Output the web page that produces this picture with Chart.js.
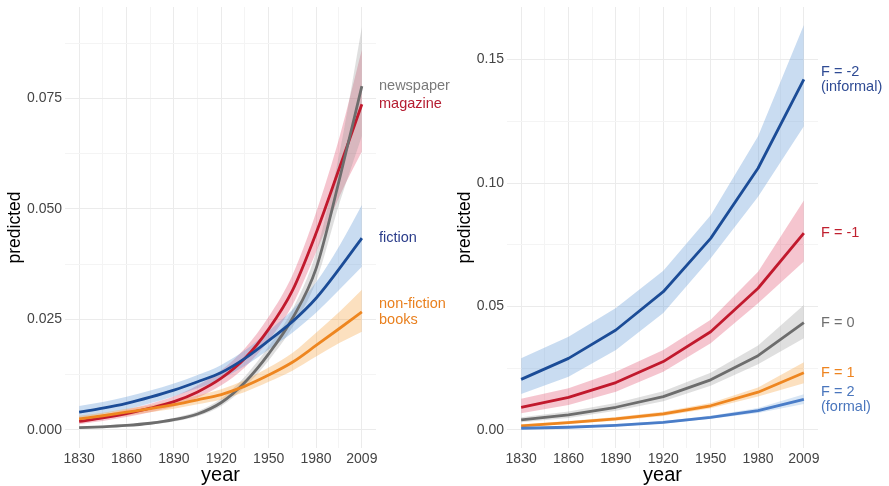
<!DOCTYPE html>
<html>
<head>
<meta charset="utf-8">
<script src="https://cdn.jsdelivr.net/npm/chart.js@4.4.1/dist/chart.umd.min.js"></script>
<style>
  html, body { margin: 0; padding: 0; background: #fff; }
  #wrap { position: relative; width: 889px; height: 486px; overflow: hidden; }
  canvas { position: absolute; top: 0; }
  #genreChart { left: 0; }
  #formalityChart { left: 445px; }
</style>
</head>
<body>
<div id="wrap">
  <canvas id="genreChart" width="470" height="486"></canvas>
  <canvas id="formalityChart" width="444" height="486"></canvas>
</div>
<script>
// ---- Panel 1: predicted share by genre ----
const genreYears = [1830, 1845, 1860, 1875, 1890, 1905, 1920, 1935, 1950, 1965, 1980, 1995, 2009];

const newspaperFit   = [0.0005, 0.0007, 0.0010, 0.0015, 0.0023, 0.0036, 0.0062, 0.0108, 0.0172, 0.0252, 0.0365, 0.0570, 0.0778];
const newspaperLow   = [0.0003, 0.0005, 0.0008, 0.0012, 0.0019, 0.0031, 0.0054, 0.0097, 0.0157, 0.0232, 0.0336, 0.0515, 0.0665];
const newspaperHigh  = [0.0007, 0.0010, 0.0013, 0.0018, 0.0027, 0.0042, 0.0071, 0.0121, 0.0189, 0.0272, 0.0402, 0.0630, 0.0912];

const magazineFit    = [0.0019, 0.0027, 0.0037, 0.0049, 0.0064, 0.0086, 0.0117, 0.0162, 0.0228, 0.0315, 0.0445, 0.0595, 0.0737];
const magazineLow    = [0.0013, 0.0020, 0.0029, 0.0040, 0.0053, 0.0073, 0.0101, 0.0142, 0.0202, 0.0282, 0.0402, 0.0530, 0.0630];
const magazineHigh   = [0.0026, 0.0035, 0.0046, 0.0059, 0.0076, 0.0101, 0.0135, 0.0185, 0.0256, 0.0350, 0.0492, 0.0665, 0.0860];

const fictionFit     = [0.0040, 0.0049, 0.0060, 0.0074, 0.0090, 0.0109, 0.0130, 0.0162, 0.0202, 0.0245, 0.0298, 0.0366, 0.0434];
const fictionLow     = [0.0027, 0.0036, 0.0046, 0.0060, 0.0076, 0.0094, 0.0115, 0.0145, 0.0182, 0.0220, 0.0265, 0.0318, 0.0369];
const fictionHigh    = [0.0054, 0.0063, 0.0075, 0.0089, 0.0105, 0.0124, 0.0147, 0.0180, 0.0224, 0.0272, 0.0334, 0.0418, 0.0509];

const nonfictionFit  = [0.0025, 0.0032, 0.0040, 0.0048, 0.0057, 0.0068, 0.0080, 0.0099, 0.0124, 0.0153, 0.0191, 0.0230, 0.0267];
const nonfictionLow  = [0.0018, 0.0025, 0.0032, 0.0040, 0.0048, 0.0058, 0.0069, 0.0086, 0.0109, 0.0134, 0.0166, 0.0197, 0.0222];
const nonfictionHigh = [0.0032, 0.0039, 0.0048, 0.0056, 0.0066, 0.0078, 0.0092, 0.0113, 0.0141, 0.0174, 0.0220, 0.0268, 0.0317];

const genreYTicks = [0, 0.025, 0.05, 0.075];
const genreYMinor = [0.0125, 0.0375, 0.0625, 0.0875];

// ---- Panel 2: predicted share by formality score F ----
const formalityYears = [1830, 1860, 1890, 1920, 1950, 1980, 2009];

const fMinus2Fit  = [0.0205, 0.0290, 0.0405, 0.0560, 0.0776, 0.1060, 0.1420];
const fMinus2Low  = [0.0146, 0.0216, 0.0324, 0.0474, 0.0695, 0.0945, 0.1230];
const fMinus2High = [0.0290, 0.0378, 0.0494, 0.0645, 0.0870, 0.1190, 0.1640];

const fMinus1Fit  = [0.0092, 0.0132, 0.0192, 0.0277, 0.0398, 0.0574, 0.0797];
const fMinus1Low  = [0.0068, 0.0101, 0.0155, 0.0236, 0.0351, 0.0513, 0.0682];
const fMinus1High = [0.0126, 0.0169, 0.0236, 0.0324, 0.0446, 0.0641, 0.0929];

const fZeroFit    = [0.0041, 0.0061, 0.0092, 0.0135, 0.0203, 0.0301, 0.0435];
const fZeroLow    = [0.0031, 0.0049, 0.0078, 0.0116, 0.0179, 0.0266, 0.0371];
const fZeroHigh   = [0.0052, 0.0075, 0.0109, 0.0157, 0.0232, 0.0342, 0.0506];

const fPlus1Fit   = [0.0017, 0.0030, 0.0045, 0.0065, 0.0098, 0.0153, 0.0232];
const fPlus1Low   = [0.0012, 0.0024, 0.0037, 0.0057, 0.0088, 0.0136, 0.0189];
const fPlus1High  = [0.0023, 0.0036, 0.0053, 0.0074, 0.0109, 0.0172, 0.0274];

const fPlus2Fit   = [0.0007, 0.0011, 0.0019, 0.0031, 0.0051, 0.0078, 0.0124];
const fPlus2Low   = [0.0004, 0.0008, 0.0015, 0.0026, 0.0045, 0.0069, 0.0105];
const fPlus2High  = [0.0010, 0.0015, 0.0024, 0.0036, 0.0058, 0.0089, 0.0145];

const formalityYTicks = [0, 0.05, 0.10, 0.15];
const formalityYMinor = [0.025, 0.075, 0.125];

// ---- shared x axis ----
const yearTicks = [1830, 1860, 1890, 1920, 1950, 1980, 2009];
const yearMinor = [1845, 1875, 1905, 1935, 1965, 1994.5];

const FONT = '"Liberation Sans", Arial, Helvetica, sans-serif';
const TICK_COLOR = '#444';
const GRID_MAJOR = '#ebebeb';
const GRID_MINOR = '#f4f4f4';

const zip = (xs, ys) => xs.map((x, i) => ({ x: x, y: ys[i] }));

// Series labels placed to the right of the panel, centred on the final value
const endLabels = {
  id: 'endLabels',
  afterDatasetsDraw(chart, args, opts) {
    const { ctx, chartArea } = chart;
    const y = chart.scales.y;
    ctx.save();
    ctx.font = '14.5px ' + FONT;
    ctx.textBaseline = 'middle';
    ctx.textAlign = 'left';
    opts.items.forEach(it => {
      const yc = y.getPixelForValue(it.value);
      const n = it.lines.length;
      ctx.fillStyle = it.color;
      it.lines.forEach((t, k) => {
        ctx.fillText(t, chartArea.right + 3, yc + (k - (n - 1) / 2) * 15.5);
      });
    });
    ctx.restore();
  }
};

function buildPanel(canvas, p) {
  const curve = p.smooth ? { cubicInterpolationMode: 'monotone' } : { tension: 0 };
  const datasets = [];
  p.series.forEach(s => {
    datasets.push(Object.assign({
      data: zip(p.years, s.high), fill: '+1', backgroundColor: s.band,
      borderWidth: 0, pointRadius: 0, order: 3
    }, curve));
    datasets.push(Object.assign({
      data: zip(p.years, s.low), fill: false, backgroundColor: s.band,
      borderWidth: 0, pointRadius: 0, order: 3
    }, curve));
  });
  p.series.forEach(s => {
    datasets.push(Object.assign({
      data: zip(p.years, s.fit), fill: false, borderColor: s.line,
      borderWidth: 2.8, pointRadius: 0, order: 1, borderCapStyle: 'butt', borderJoinStyle: 'round'
    }, curve));
  });

  const yAll = p.yTicks.concat(p.yMinor);
  const xAll = yearTicks.concat(yearMinor);

  return new Chart(canvas, {
    type: 'line',
    data: { datasets },
    plugins: [endLabels],
    options: {
      responsive: false,
      animation: false,
      events: [],
      layout: { padding: { top: 7, right: p.rightPad, left: 0, bottom: 0 } },
      plugins: {
        legend: { display: false },
        tooltip: { enabled: false },
        endLabels: { items: p.series.map(s => ({ lines: s.name, color: s.labelColor, value: s.fit[s.fit.length - 1] })) }
      },
      scales: {
        x: {
          type: 'linear',
          min: 1821.05, max: 2017.95,
          afterBuildTicks: sc => { sc.ticks = xAll.map(v => ({ value: v })); },
          afterFit: sc => { sc.height = 38; sc.paddingLeft = 0; sc.paddingRight = 0; },
          grid: {
            drawTicks: false, lineWidth: 1,
            color: c => (yearMinor.includes(c.tick.value) ? GRID_MINOR : GRID_MAJOR)
          },
          border: { display: false },
          ticks: {
            autoSkip: false, maxRotation: 0, padding: 3, color: TICK_COLOR,
            font: { family: FONT, size: 14 },
            callback: v => (yearTicks.includes(v) ? String(v) : '')
          },
          title: {
            display: true, text: 'year', color: '#000',
            font: { family: FONT, size: 20, lineHeight: 1.1 },
            padding: { top: 0, bottom: 0 }
          }
        },
        y: {
          type: 'linear',
          min: p.yMin, max: p.yMax,
          afterBuildTicks: sc => { sc.ticks = yAll.map(v => ({ value: v })); },
          afterFit: sc => { sc.width = p.yWidth; sc.paddingTop = 0; sc.paddingBottom = 0; },
          grid: {
            drawTicks: false, lineWidth: 1,
            color: c => (p.yMinor.includes(c.tick.value) ? GRID_MINOR : GRID_MAJOR)
          },
          border: { display: false },
          ticks: {
            autoSkip: false, padding: 3, color: TICK_COLOR,
            font: { family: FONT, size: 14 },
            callback: v => (p.yTicks.includes(v) ? v.toFixed(p.decimals) : '')
          },
          title: {
            display: true, text: 'predicted', color: '#000',
            font: { family: FONT, size: 17.5, lineHeight: 1.2 },
            padding: { top: p.titlePad, bottom: 0 }
          }
        }
      }
    }
  });
}

buildPanel(document.getElementById('genreChart'), {
  years: genreYears, smooth: true,
  yMin: -0.0041, yMax: 0.0957, yTicks: genreYTicks, yMinor: genreYMinor, decimals: 3,
  yWidth: 65, rightPad: 94, titlePad: 4.5,
  series: [
    { name: ['non-fiction', 'books'], fit: nonfictionFit, low: nonfictionLow, high: nonfictionHigh,
      line: '#ee8620', band: 'rgba(245,160,60,0.33)', labelColor: '#e9801f' },
    { name: ['fiction'], fit: fictionFit, low: fictionLow, high: fictionHigh,
      line: '#1b4c97', band: 'rgba(100,155,215,0.35)', labelColor: '#2a3c8a' },
    { name: ['newspaper'], fit: newspaperFit, low: newspaperLow, high: newspaperHigh,
      line: '#6d6d6d', band: 'rgba(150,150,150,0.30)', labelColor: '#7a7a7a' },
    { name: ['magazine'], fit: magazineFit, low: magazineLow, high: magazineHigh,
      line: '#c1192d', band: 'rgba(225,80,110,0.33)', labelColor: '#b51d31' }
  ]
});

buildPanel(document.getElementById('formalityChart'), {
  years: formalityYears, smooth: false,
  yMin: -0.0073, yMax: 0.1713, yTicks: formalityYTicks, yMinor: formalityYMinor, decimals: 2,
  yWidth: 62, rightPad: 71, titlePad: 9.5,
  series: [
    { name: ['F = 2', '(formal)'], fit: fPlus2Fit, low: fPlus2Low, high: fPlus2High,
      line: '#4a7dc8', band: 'rgba(100,155,215,0.25)', labelColor: '#4a76bd' },
    { name: ['F = 1'], fit: fPlus1Fit, low: fPlus1Low, high: fPlus1High,
      line: '#ee8620', band: 'rgba(245,160,60,0.33)', labelColor: '#ee8420' },
    { name: ['F = 0'], fit: fZeroFit, low: fZeroLow, high: fZeroHigh,
      line: '#6d6d6d', band: 'rgba(150,150,150,0.30)', labelColor: '#6f6f6f' },
    { name: ['F = -1'], fit: fMinus1Fit, low: fMinus1Low, high: fMinus1High,
      line: '#c1192d', band: 'rgba(225,80,110,0.33)', labelColor: '#c0202f' },
    { name: ['F = -2', '(informal)'], fit: fMinus2Fit, low: fMinus2Low, high: fMinus2High,
      line: '#1b4c97', band: 'rgba(100,155,215,0.35)', labelColor: '#2f4b94' }
  ]
});
</script>
</body>
</html>
